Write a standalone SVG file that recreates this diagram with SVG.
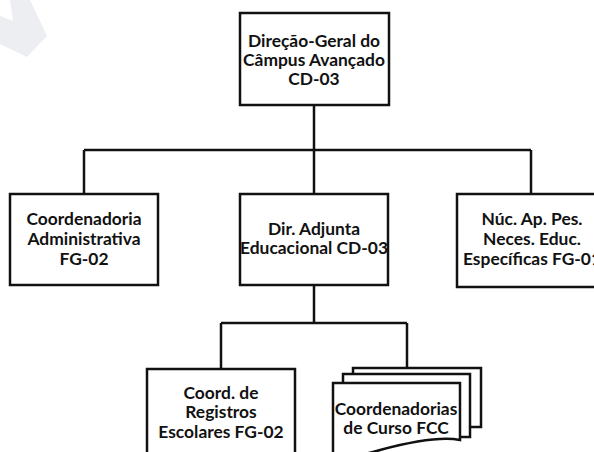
<svg xmlns="http://www.w3.org/2000/svg" width="594" height="452" viewBox="0 0 594 452">
<style>
.box{fill:#fff;stroke:#111;stroke-width:2.5}
.ln{fill:none;stroke:#111;stroke-width:2.5}
text{font-family:Lato,"Liberation Sans",sans-serif;font-weight:bold;font-size:17.4px;fill:#111;text-anchor:middle}
</style>
<polygon points="10,0 30,0 47,36 27,57 0,44 0,16 13,21" fill="#eceef1"/>
<g id="connectors">
<path class="ln" d="M314,105 V150 M84,150 H531 M84,150 V194 M314,150 V194 M531,150 V194"/>
<path class="ln" d="M314,285 V323 M221,323 H407 M221,323 V369 M407,323 V368"/>
</g>
<g id="n1">
<rect class="box" x="240" y="13" width="149" height="92"/>
<text x="314" y="47">Direção-Geral do</text>
<text x="314" y="66">Câmpus Avançado</text>
<text x="314" y="85">CD-03</text>
</g>
<g id="n2">
<rect class="box" x="10" y="194" width="148" height="91"/>
<text x="84" y="225">Coordenadoria</text>
<text x="84" y="245">Administrativa</text>
<text x="84" y="265">FG-02</text>
</g>
<g id="n3">
<rect class="box" x="240" y="194" width="148" height="91"/>
<text x="314" y="235">Dir. Adjunta</text>
<text x="314" y="254">Educacional CD-03</text>
</g>
<g id="n4">
<rect class="box" x="457" y="194" width="150" height="93"/>
<text x="532" y="225">Núc. Ap. Pes.</text>
<text x="532" y="245">Neces. Educ.</text>
<text x="532" y="265">Específicas FG-01</text>
</g>
<g id="n5">
<rect class="box" x="147" y="369" width="148" height="100"/>
<text x="221" y="399">Coord. de</text>
<text x="221" y="418">Registros</text>
<text x="221" y="438">Escolares FG-02</text>
</g>
<g id="n6">
<rect class="box" x="353" y="368" width="128" height="59"/>
<rect class="box" x="343" y="374" width="127" height="63"/>
<path class="box" d="M333,383 H460 V440 C440,436 410,442 380,450 C360,456 345,458 333,456 Z"/>
<text x="396" y="415">Coordenadorias</text>
<text x="396" y="434">de Curso FCC</text>
</g>
</svg>
